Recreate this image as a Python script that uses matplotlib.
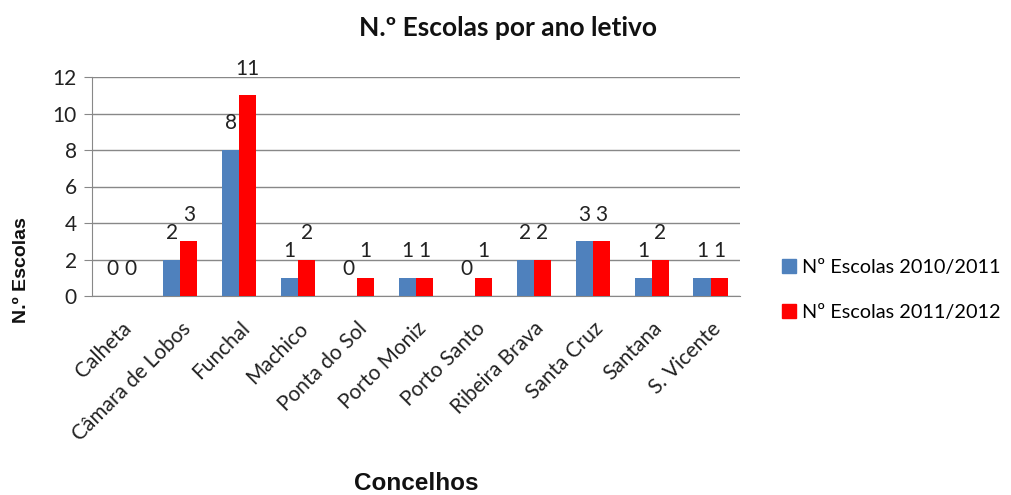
import matplotlib
matplotlib.use("Agg")
import matplotlib.pyplot as plt
import numpy as np
from matplotlib.patches import Patch

categories = ["Calheta", "Câmara de Lobos", "Funchal", "Machico", "Ponta do Sol",
              "Porto Moniz", "Porto Santo", "Ribeira Brava", "Santa Cruz", "Santana", "S. Vicente"]
s2010 = [0, 2, 8, 1, 0, 1, 0, 2, 3, 1, 1]
s2011 = [0, 3, 11, 2, 1, 1, 1, 2, 3, 2, 1]
series_names = ["Nº Escolas 2010/2011", "Nº Escolas 2011/2012"]
colors = ["#4F81BD", "#FF0000"]
yticks = [0, 2, 4, 6, 8, 10, 12]

FONT = "Lato"

fig = plt.figure(figsize=(10.11, 4.95), dpi=100)
ax = fig.add_axes([92/1011, 1-296/495, (740-92)/1011, (296-77)/495])

x = np.arange(len(categories))
w = 0.29
ax.bar(x - w/2, s2010, w, color=colors[0], zorder=3)
ax.bar(x + w/2, s2011, w, color=colors[1], zorder=3)

for xs, vals in ((x - w/2, s2010), (x + w/2, s2011)):
    for xi, v in zip(xs, vals):
        ax.annotate(str(v), (xi, v), xytext=(0, 12), textcoords="offset points",
                    ha="center", va="bottom", fontsize=15, family=FONT, color="#222222")

ax.set_xlim(-0.5, len(categories) - 0.5)
ax.set_ylim(0, 12)
ax.set_yticks(yticks)
ax.set_yticklabels([str(t) for t in yticks], fontsize=15, family=FONT, color="#222222")
ax.yaxis.grid(True, color="#888888", linewidth=1, zorder=0)
ax.set_axisbelow(True)
ax.tick_params(axis="y", length=6, color="#888888", pad=5)
ax.tick_params(axis="x", length=0, pad=16)
ax.set_xticks(x)
ax.set_xticklabels(categories, rotation=45, ha="right", rotation_mode="anchor",
                   fontsize=15, family=FONT, color="#222222")
for s in ["top", "right"]:
    ax.spines[s].set_visible(False)
ax.spines["left"].set_color("#888888")
ax.spines["bottom"].set_color("#888888")

fig.text(508/1011, 1-28/495, "N.º Escolas por ano letivo", ha="center", va="center",
         fontsize=19, fontweight="bold", family=FONT, color="#111111")
fig.text(22/1011, 1-270/495, "N.º Escolas", rotation=90, ha="center", va="center",
         fontsize=14, fontweight="bold", family="Liberation Sans", color="#111111")
fig.text(416/1011, 1-484/495, "Concelhos", ha="center", va="center",
         fontsize=17.5, fontweight="bold", family="Liberation Sans", color="#111111")

handles = [Patch(color=colors[0]), Patch(color=colors[1])]
fig.legend(handles, series_names, loc="center left", bbox_to_anchor=(764/1011, 1-290/495),
           frameon=False, prop={"family": FONT, "size": 14.3}, handlelength=0.7, handleheight=0.7,
           handletextpad=0.3, labelspacing=1.4)

fig.savefig("out.png", dpi=100)
